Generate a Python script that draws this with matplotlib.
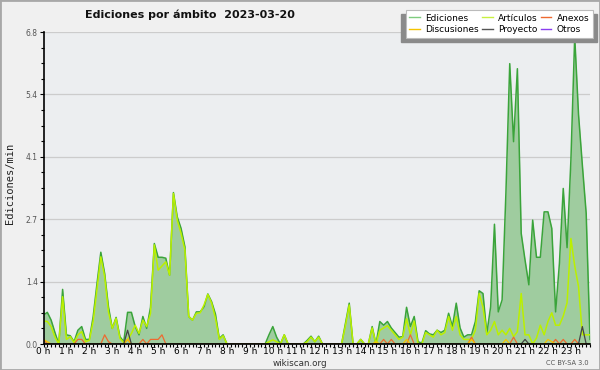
import numpy as np
import matplotlib
matplotlib.use("Agg")
import matplotlib.pyplot as plt
from matplotlib.patches import Rectangle
from matplotlib.ticker import MultipleLocator, FixedLocator, FuncFormatter

# edits per minute, one value per 10 minutes (00:00 .. 23:50)
ediciones = [
    0.63, 0.69, 0.52, 0.25, 0.0, 1.19, 0.2, 0.18, 0.05, 0.3, 0.38, 0.1,
    0.1, 0.6, 1.32, 2.0, 1.54, 0.81, 0.34, 0.58, 0.16, 0.05, 0.69, 0.69,
    0.38, 0.2, 0.6, 0.34, 0.8, 2.19, 1.89, 1.89, 1.87, 1.5, 3.3, 2.77,
    2.52, 2.12, 0.6, 0.52, 0.7, 0.7, 0.81, 1.09, 0.92, 0.65, 0.12, 0.2,
    0.0, 0.0, 0.0, 0.0, 0.0, 0.0, 0.0, 0.0, 0.0, 0.0, 0.0, 0.2,
    0.38, 0.15, 0.0, 0.2, 0.0, 0.0, 0.0, 0.0, 0.0, 0.08, 0.17, 0.05,
    0.17, 0.0, 0.0, 0.0, 0.0, 0.0, 0.0, 0.45, 0.89, 0.0, 0.0, 0.1,
    0.0, 0.0, 0.38, 0.0, 0.49, 0.41, 0.49, 0.35, 0.25, 0.15, 0.16, 0.8,
    0.38, 0.6, 0.05, 0.02, 0.29, 0.22, 0.2, 0.3, 0.25, 0.3, 0.67, 0.38,
    0.89, 0.35, 0.15, 0.2, 0.2, 0.49, 1.16, 1.1, 0.23, 0.81, 2.61, 0.7,
    0.96, 3.3, 6.11, 4.41, 6.0, 2.41, 1.83, 1.29, 2.7, 1.89, 1.89, 2.88,
    2.88, 2.52, 0.7, 1.76, 3.39, 2.1, 4.0, 6.7, 5.0, 3.9, 2.85, 0.1,
]
articulos = [
    0.5, 0.49, 0.38, 0.15, 0.0, 1.03, 0.1, 0.16, 0.03, 0.2, 0.27, 0.05,
    0.08, 0.5, 1.2, 1.9, 1.47, 0.7, 0.34, 0.56, 0.12, 0.03, 0.09, 0.23,
    0.41, 0.23, 0.52, 0.38, 0.67, 2.16, 1.61, 1.7, 1.79, 1.5, 3.28, 2.7,
    2.41, 2.05, 0.6, 0.52, 0.67, 0.68, 0.85, 1.08, 0.89, 0.56, 0.1, 0.18,
    0.0, 0.0, 0.0, 0.0, 0.0, 0.0, 0.0, 0.0, 0.0, 0.0, 0.0, 0.05,
    0.09, 0.05, 0.0, 0.2, 0.0, 0.0, 0.0, 0.0, 0.0, 0.05, 0.15, 0.05,
    0.15, 0.0, 0.0, 0.0, 0.0, 0.0, 0.0, 0.4, 0.85, 0.0, 0.0, 0.1,
    0.0, 0.0, 0.35, 0.0, 0.3, 0.35, 0.4, 0.3, 0.2, 0.1, 0.15, 0.55,
    0.2, 0.5, 0.0, 0.0, 0.25, 0.2, 0.15, 0.3, 0.2, 0.25, 0.6, 0.3,
    0.6, 0.2, 0.1, 0.1, 0.1, 0.3, 1.1, 0.8, 0.2, 0.3, 0.49, 0.2,
    0.3, 0.2, 0.34, 0.16, 0.27, 1.1, 0.2, 0.2, 0.0, 0.13, 0.41, 0.2,
    0.49, 0.68, 0.41, 0.41, 0.61, 0.9, 2.3, 1.7, 1.25, 0.2, 0.2, 0.2,
]
# sparse series: {slot index: value}
anexos_pts = {0: 0.1, 9: 0.1, 10: 0.1, 16: 0.2, 17: 0.05, 22: 0.1, 26: 0.1,
              28: 0.1, 29: 0.1, 30: 0.1, 31: 0.2, 89: 0.1, 91: 0.1, 96: 0.2,
              112: 0.15, 123: 0.15, 134: 0.1, 136: 0.1, 139: 0.1}
discusiones_pts = {0: 0.1, 1: 0.05, 22: 0.1, 87: 0.05, 95: 0.1, 112: 0.1,
                   121: 0.1, 132: 0.1, 133: 0.05}
proyecto_pts = {22: 0.3, 126: 0.1, 141: 0.38}
otros_pts = {}

hour_labels = [f"{h} h" for h in range(24)]
y_ticks = [0.0, 1.36, 2.72, 4.08, 5.44, 6.8]


def sparse(pts, n):
    arr = np.zeros(n)
    for k, v in pts.items():
        arr[k] = v
    return arr


n = len(ediciones)
t = np.arange(n) / 6.0
anexos = sparse(anexos_pts, n)
discusiones = sparse(discusiones_pts, n)
proyecto = sparse(proyecto_pts, n)
otros = sparse(otros_pts, n)

fig = plt.figure(figsize=(6, 3.7), dpi=100, facecolor="#f0f0f0")
ax = fig.add_axes([43.5 / 600, 26 / 370, 546.5 / 600, 312 / 370])
ax.set_facecolor("#eceef0")

ax.fill_between(t, ediciones, color="#9fcc9f", lw=0, zorder=2)
ax.plot(t, otros, color="#8a3ff0", lw=1.0, zorder=3)
ax.plot(t, ediciones, color="#3aa43a", lw=1.1, zorder=4)
ax.plot(t, articulos, color="#bbf000", lw=1.1, zorder=5)
ax.plot(t, anexos, color="#ee6a30", lw=0.9, zorder=6)
ax.plot(t, discusiones, color="#f5c400", lw=0.9, zorder=6)
ax.plot(t, proyecto, color="#444444", lw=0.9, zorder=7)

ax.set_xlim(0, t[-1])
ax.set_ylim(0, 6.8)
for s in ("top", "right"):
    ax.spines[s].set_visible(False)
for s in ("left", "bottom"):
    ax.spines[s].set_linewidth(1.2)
    ax.spines[s].set_zorder(8)

ax.yaxis.set_major_locator(FixedLocator(y_ticks))
ax.yaxis.set_minor_locator(MultipleLocator(0.34))
ax.yaxis.set_major_formatter(FuncFormatter(lambda v, p: f"{v:.1f}"))
ax.xaxis.set_major_locator(FixedLocator(range(24)))
ax.xaxis.set_minor_locator(MultipleLocator(1 / 6))
ax.set_xticklabels(hour_labels)
ax.grid(axis="y", color="#cccccc", lw=0.9, zorder=1)
ax.set_axisbelow(True)
ax.tick_params(axis="x", which="major", length=2.5, width=0.8, pad=0,
               labelsize=6.5, colors="black")
ax.tick_params(axis="x", which="minor", length=2, width=0.8)
ax.tick_params(axis="y", which="major", length=3, width=0.8, pad=1,
               labelsize=5.5, labelcolor="#555555")
ax.tick_params(axis="y", which="minor", length=2, width=0.8)

fig.text(0.016, 0.505, "Ediciones/min", rotation=90, ha="center", va="center",
         family="DejaVu Sans Mono", fontsize=7.5, color="#222222")
fig.text(85 / 600, 1 - 15 / 370, "Ediciones por ámbito  2023-03-20",
         ha="left", va="center", fontsize=8, fontweight="bold", color="#111111")
fig.text(0.5, 1 - 363 / 370, "wikiscan.org", ha="center", va="center",
         fontsize=6.3, color="#333333")
fig.text(589 / 600, 1 - 363 / 370, "CC BY-SA 3.0", ha="right", va="center",
         fontsize=4.8, color="#555555")

# legend with a drop shadow block behind it
fig.patches.append(Rectangle((401 / 600, 1 - 42 / 370), 196 / 600, 28 / 370,
                             transform=fig.transFigure, color="#8a8a8a",
                             zorder=9))
handles = [
    plt.Line2D([], [], color="#7fcc7f", lw=1.0),
    plt.Line2D([], [], color="#f5c400", lw=1.0),
    plt.Line2D([], [], color="#c8f040", lw=1.0),
    plt.Line2D([], [], color="#555555", lw=1.0),
    plt.Line2D([], [], color="#ee6a30", lw=1.0),
    plt.Line2D([], [], color="#8a3ff0", lw=1.0),
]
labels = ["Ediciones", "Discusiones", "Artículos", "Proyecto", "Anexos", "Otros"]
leg = fig.legend(handles, labels, ncol=3, loc="upper right",
                 bbox_to_anchor=(593 / 600, 1 - 10 / 370), fontsize=6.5,
                 frameon=True, fancybox=False, framealpha=1,
                 edgecolor="#bbbbbb", facecolor="white", borderpad=0.4,
                 handlelength=1.2, handletextpad=0.6, columnspacing=0.3,
                 labelspacing=0.3, borderaxespad=0)
leg.set_zorder(10)
leg.get_frame().set_linewidth(0.8)

fig.patches.append(Rectangle((0, 0), 1, 1, transform=fig.transFigure,
                             fill=False, edgecolor="#a8a8a8", lw=2))

fig.savefig("out.png", dpi=100, facecolor=fig.get_facecolor())
